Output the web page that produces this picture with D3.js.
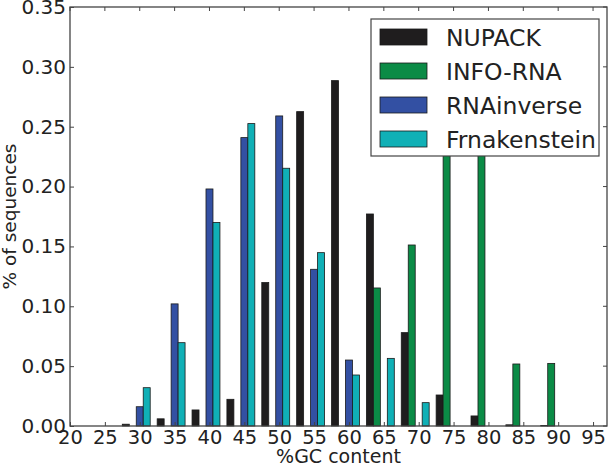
<!DOCTYPE html>
<html><head><meta charset="utf-8">
<script src="https://cdn.jsdelivr.net/npm/d3@7"></script>
<style>body{margin:0;background:#fff}svg text{font-family:"DejaVu Sans",sans-serif;fill:#222}</style>
</head><body><svg id="c" width="611" height="466"></svg>
<script>
const bins = [30,35,40,45,50,55,60,65,70,75,80,85,90];
const nupack = [0.0015,0.006,0.0134,0.0223,0.1198,0.2626,0.2885,0.1771,0.078,0.0259,0.0084,0.001,0.0005];
const infoRna = [0,0,0,0,0,0,0,0.1153,0.1512,0.318,0.312,0.0518,0.0523];
const rnaInverse = [0.0161,0.102,0.198,0.2409,0.259,0.1309,0.0551,0,0,0,0,0,0];
const frnakenstein = [0.032,0.0696,0.170,0.2526,0.2153,0.1448,0.0426,0.0565,0.0195,0,0,0,0];
const seriesNames = ["NUPACK","INFO-RNA","RNAinverse","Frnakenstein"];
const colors = ["#1f1d1e","#0b8b46","#3350a3","#10b0b6"];
const xTicks = [20,25,30,35,40,45,50,55,60,65,70,75,80,85,90,95];
const yTicks = [0,0.05,0.10,0.15,0.20,0.25,0.30,0.35];

const series = [nupack, infoRna, rnaInverse, frnakenstein];
const L=70, R=607, T=7, B=426;
const x = d3.scaleLinear().domain([20,97]).range([L,R]);
const y = d3.scaleLinear().domain([0,0.35]).range([B,T]);
const svg = d3.select("#c");
const axisColor = "#444";

// bars
series.forEach((vals, si) => {
  svg.append("g").selectAll("rect").data(bins.map((c,i)=>({c, v: vals[i]})).filter(d=>d.v>0))
    .join("rect")
    .attr("x", d => x(d.c - 2.5 + si))
    .attr("width", d => x(d.c - 1.5 + si) - x(d.c - 2.5 + si))
    .attr("y", d => y(d.v))
    .attr("height", d => y(0) - y(d.v))
    .attr("fill", colors[si])
    .attr("stroke", "#1a1a1a")
    .attr("stroke-width", 0.8);
});

// frame
svg.append("rect").attr("x",L).attr("y",T).attr("width",R-L).attr("height",B-T)
  .attr("fill","none").attr("stroke",axisColor).attr("stroke-width",1.3);

// x axis
const xa = svg.append("g").attr("transform",`translate(0,${B})`)
  .call(d3.axisBottom(x).tickValues(xTicks).tickSize(-4).tickPadding(3).tickFormat(d3.format("d")));
xa.select(".domain").remove();
xa.selectAll("line").attr("stroke",axisColor);
xa.selectAll("text").attr("font-size",19.5).attr("dy","0.75em").attr("y",3).style("fill","#222");
// top ticks
svg.append("g").selectAll("line").data(xTicks).join("line")
  .attr("x1",d=>x(d)).attr("x2",d=>x(d)).attr("y1",T).attr("y2",T+4).attr("stroke",axisColor);

// y axis
const ya = svg.append("g").attr("transform",`translate(${L},0)`)
  .call(d3.axisLeft(y).tickValues(yTicks).tickSize(-4).tickPadding(4).tickFormat(d3.format(".2f")));
ya.select(".domain").remove();
ya.selectAll("line").attr("stroke",axisColor);
ya.selectAll("text").attr("font-size",20).attr("x",-4).style("fill","#222");
svg.append("g").selectAll("line").data(yTicks).join("line")
  .attr("x1",R-4).attr("x2",R).attr("y1",d=>y(d)).attr("y2",d=>y(d)).attr("stroke",axisColor);

// axis labels
svg.append("text").attr("x",(L+R)/2).attr("y",463).attr("text-anchor","middle").attr("font-size",19).text("%GC content");
svg.append("text").attr("transform",`translate(16,${(T+B)/2}) rotate(-90)`).attr("text-anchor","middle").attr("font-size",18.5).text("% of sequences");

// legend
const lg = svg.append("g");
lg.append("rect").attr("x",371).attr("y",19).attr("width",228).attr("height",137)
  .attr("fill","#fff").attr("stroke",axisColor).attr("stroke-width",1.2);
seriesNames.forEach((n,i)=>{
  const yy = 29 + i*34;
  lg.append("rect").attr("x",380).attr("y",yy).attr("width",47).attr("height",16)
    .attr("fill",colors[i]).attr("stroke","#1a1a1a").attr("stroke-width",0.8);
  lg.append("text").attr("x",446).attr("y",yy+16.5).attr("font-size",23.5).text(n);
});
</script></body></html>
